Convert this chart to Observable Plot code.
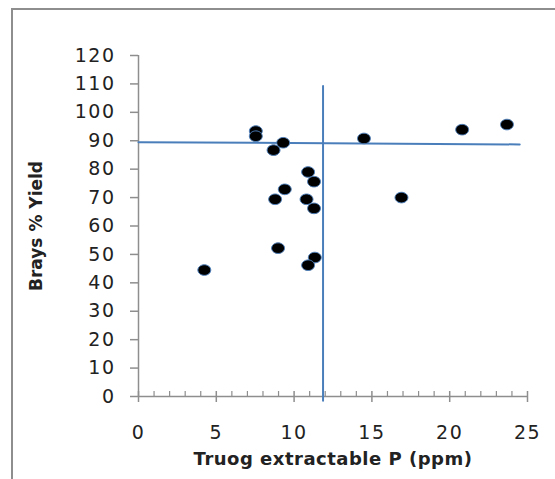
<!DOCTYPE html>
<html><head><meta charset="utf-8">
<script src="https://cdn.jsdelivr.net/npm/d3@7"></script>
<script src="https://cdn.jsdelivr.net/npm/@observablehq/plot@0.6"></script>
<style>
html,body{margin:0;padding:0;background:#fff;}
#wrap{position:relative;width:555px;height:479px;overflow:hidden;background:#fff;}
#frame{position:absolute;left:11px;top:8px;width:700px;height:700px;border-left:2px solid #8e8e8e;border-top:2px solid #8e8e8e;}
#chart{position:absolute;left:0;top:0;}
#chart svg{font-family:"DejaVu Sans",sans-serif;}
g[aria-label="x-axis label"] text{font-weight:bold;font-size:18px;letter-spacing:0.5px;}
g[aria-label="y-axis label"] text{font-weight:bold;font-size:17px;}
g[aria-label="x-axis tick label"] text, g[aria-label="y-axis tick label"] text{font-size:19px;letter-spacing:1.5px;}
</style></head>
<body><div id="wrap"><div id="frame"></div><div id="chart"></div></div>
<script>
// Data
const truogP     = [7.54, 7.54, 9.3, 8.68, 10.9, 11.28, 9.4, 8.78, 10.8, 11.28, 8.97, 11.33, 10.9, 4.23, 14.49, 16.9, 20.8, 23.68];
const braysYield = [93.4, 91.6, 89.3, 86.7, 79.0, 75.6, 72.9, 69.4, 69.4, 66.2, 52.2, 48.9, 46.2, 44.5, 90.8, 70.0, 93.9, 95.7];
const xTicks = [0, 5, 10, 15, 20, 25];
const xMinorTicks = [1, 2, 3, 4, 6, 7, 8, 9, 11, 12, 13, 14, 16, 17, 18, 19, 21, 22, 23, 24];
const yTicks = [0, 10, 20, 30, 40, 50, 60, 70, 80, 90, 100, 110, 120];
// reference lines
const hLineX = [0, 24.5];
const hLineY = [89.5, 88.7];
const vLineX = [11.86, 11.86];
const vLineY = [-1.5, 109.3];

const points = truogP.map((x, i) => ({x, y: braysYield[i]}));
const hLine = hLineX.map((x, i) => ({x, y: hLineY[i]}));
const vLine = vLineX.map((x, i) => ({x, y: vLineY[i]}));

const axisGray = "#8e8e8e";
const lineBlue = "#4a7ebb";

const ellipse = {
  draw(ctx, size) {
    const r = Math.sqrt(size / Math.PI);
    const rx = r * 1.22, ry = r, k = 0.5523;
    ctx.moveTo(rx, 0);
    ctx.bezierCurveTo(rx, ry * k, rx * k, ry, 0, ry);
    ctx.bezierCurveTo(-rx * k, ry, -rx, ry * k, -rx, 0);
    ctx.bezierCurveTo(-rx, -ry * k, -rx * k, -ry, 0, -ry);
    ctx.bezierCurveTo(rx * k, -ry, rx, -ry * k, rx, 0);
    ctx.closePath();
  }
};

const chart = Plot.plot({
  width: 555,
  height: 479,
  marginLeft: 138,
  marginRight: 28,
  marginTop: 55,
  marginBottom: 83,
  style: {background: "transparent", fontFamily: "DejaVu Sans", color: "#222"},
  x: {domain: [0, 25]},
  y: {domain: [0, 120]},
  marks: [
    Plot.ruleY([0], {stroke: axisGray, strokeWidth: 1.5}),
    Plot.ruleX([0], {stroke: axisGray, strokeWidth: 1.5}),
    Plot.axisY(yTicks, {tickSize: 8, tickPadding: 15, stroke: axisGray, strokeWidth: 1.5, fill: "#222", fontSize: 19,
      label: "Brays % Yield", labelArrow: "none", labelAnchor: "center", labelOffset: 109}),
    Plot.axisX(xMinorTicks, {tickSize: 5, dy: -5, stroke: axisGray, strokeWidth: 1.2, tickFormat: () => "", label: null}),
    Plot.axisX(xTicks, {tickSize: 11, dy: -5, stroke: axisGray, strokeWidth: 1.5, tickFormat: () => "", label: null}),
    Plot.axisX(xTicks, {tickSize: 0, tickPadding: 29, fill: "#222", fontSize: 19,
      label: "Truog extractable P (ppm)", labelArrow: "none", labelAnchor: "center", labelOffset: 68}),
    Plot.line(hLine, {x: "x", y: "y", stroke: lineBlue, strokeWidth: 2}),
    Plot.line(vLine, {x: "x", y: "y", stroke: lineBlue, strokeWidth: 2}),
    Plot.dot(points, {x: "x", y: "y", r: 5.3, symbol: ellipse, fill: "#000", stroke: "#4f81bd", strokeWidth: 1})
  ]
});
document.getElementById("chart").appendChild(chart);
</script>
</body></html>
